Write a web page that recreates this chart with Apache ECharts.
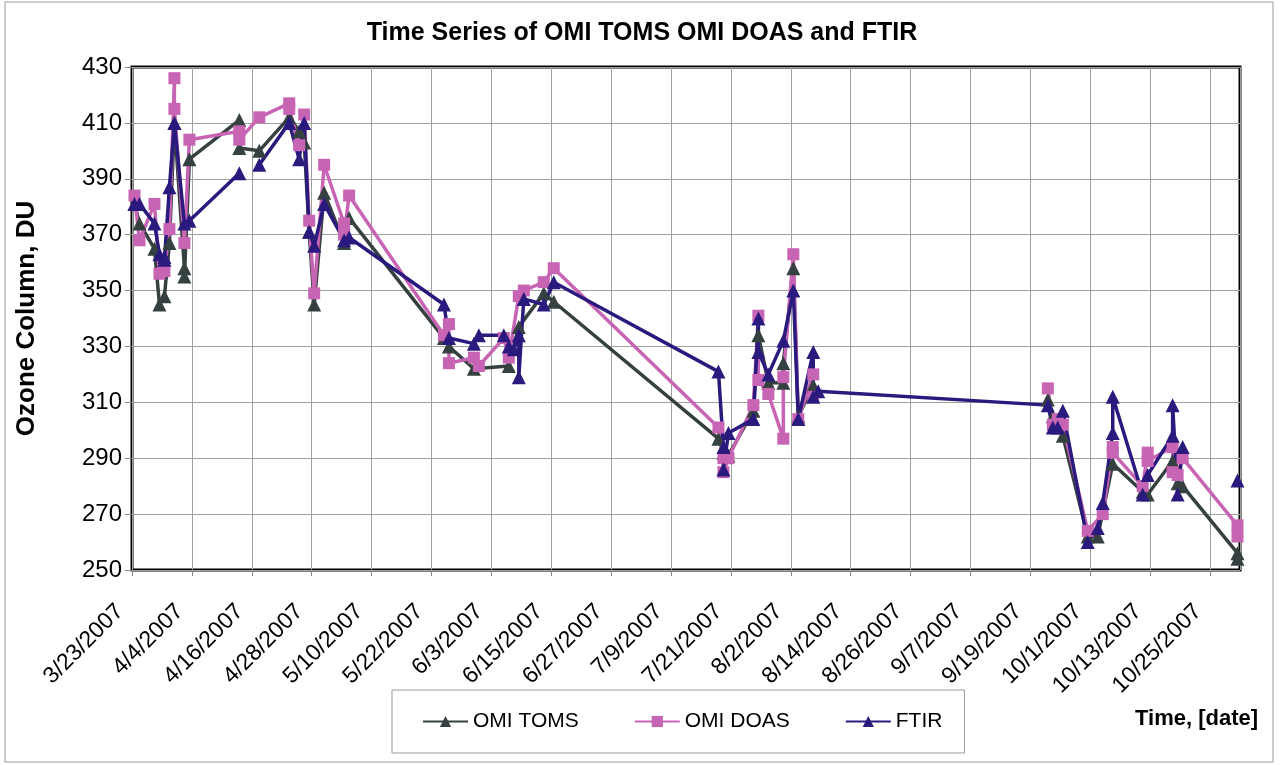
<!DOCTYPE html>
<html>
<head>
<meta charset="utf-8">
<title>Time Series of OMI TOMS OMI DOAS and FTIR</title>
<script src="https://cdn.jsdelivr.net/npm/echarts@6/dist/echarts.min.js"></script>
<style>
  html, body { margin: 0; padding: 0; background: #fff; }
  #chart { width: 1284px; height: 765px; }
</style>
</head>
<body>
<div id="chart"></div>
<script>
// dates are M/D in 2007, null = gap in the line
const tomsDates = ['3/23', '3/24', '3/27', '3/28', '3/29', '3/30', '3/31', '4/2', '4/2', '4/3',
  '4/13', '4/13', '4/17', '4/23', '4/25', '4/26', '4/27', '4/28', '4/30', '5/4', '5/5',
  '5/24', '5/25', '5/30', '6/6', '6/8', '6/13', '6/15',
  '7/18', '7/19', '7/20', '7/25', '7/26', '7/28', '7/31', '7/31', '8/2', '8/3', '8/6', '8/7',
  '9/22', '9/23', '9/25', '9/30', '10/2', '10/5', '10/11', '10/12', '10/17', '10/18', '10/19', '10/30', '10/30'];
const tomsValues = [381, 374, 365, 345, 348, 367, 410, 358, 355, 397,
  411, 401, 400, 412, 407, 403, 371, 345, 385, 367, 376,
  333, 330, 322, 323, 337, 349, 346,
  297, 292, 291, 307, 334, 317, 317, 324, 358, 305, 316, null,
  311, 305, 298, 262, 262, 288, 278, 277, 289, 281, 280, 256, 254];

const doasDates = ['3/23', '3/24', '3/27', '3/28', '3/29', '3/30', '3/31', '3/31', '4/2', '4/3',
  '4/13', '4/13', '4/17', '4/23', '4/23', '4/25', '4/26', '4/27', '4/28', '4/30', '5/4', '5/4', '5/5',
  '5/24', '5/25', '5/25', '5/30', '5/31', '6/5', '6/6', '6/8', '6/9', '6/13', '6/15',
  '7/18', '7/19', '7/19', '7/20', '7/25', '7/26', '7/26', '7/28', '7/31', '7/31', '8/2', '8/3', '8/6', '8/6', '8/7',
  '9/22', '9/23', '9/24', '9/25', '9/30', '10/3', '10/5', '10/5', '10/11', '10/12', '10/12',
  '10/17', '10/17', '10/18', '10/19', '10/30', '10/30'];
const doasValues = [384, 368, 381, 356, 357, 372, 426, 415, 367, 404,
  407, 404, 412, 417, 415, 402, 413, 375, 349, 395, 374, 370, 384,
  334, 338, 324, 326, 323, 333, 326, 348, 350, 353, 358,
  301, 290, 285, 290, 309, 341, 318, 313, 297, 319, 363, 304, 320, 312, null,
  315, 302, 304, 302, 264, 270, 294, 292, 280, 292, 289,
  294, 285, 284, 290, 266, 262];

const ftirDates = ['3/23', '3/24', '3/27', '3/28', '3/29', '3/29', '3/30', '3/31', '4/2', '4/3',
  '4/13', '4/15', '4/17', '4/23', '4/25', '4/26', '4/27', '4/28', '4/30', '5/4', '5/5',
  '5/24', '5/25', '5/30', '5/31', '6/5', '6/6', '6/7', '6/8', '6/8', '6/9', '6/13', '6/15',
  '7/18', '7/19', '7/19', '7/20', '7/25', '7/26', '7/26', '7/28', '7/31', '8/2', '8/3', '8/6', '8/6', '8/7',
  '9/22', '9/23', '9/24', '9/25', '9/30', '10/2', '10/3', '10/5', '10/5', '10/11', '10/12',
  '10/17', '10/17', '10/18', '10/19', '10/25', '10/30'];
const ftirValues = [381, 381, 374, 363, 362, 361, 387, 410, 374, 375,
  392, null, 395, 410, 397, 410, 371, 366, 381, 368, 369,
  345, 333, 331, 334, 334, 330, 329, 334, 319, 347, 345, 353,
  321, 294, 286, 299, 304, 340, 328, 320, 332, 350, 304, 328, 312, 314,
  309, 301, 301, 307, 260, 265, 274, 299, 312, 277, 284,
  298, 309, 277, 294, null, 282];

const seriesNames = ['OMI TOMS', 'OMI DOAS', 'FTIR'];

const DAY = 86400000;
const START = Date.UTC(2007, 2, 23);

// days since 3/23/2007, centred in the day slot like the excel date axis
function toDay(s) {
  const p = s.split('/');
  return (Date.UTC(2007, +p[0] - 1, +p[1]) - START) / DAY + 0.5;
}
function dayLabel(v) {
  const d = new Date(START + v * DAY);
  return (d.getUTCMonth() + 1) + '/' + d.getUTCDate() + '/' + d.getUTCFullYear();
}
function pairs(dates, values) {
  return dates.map((s, i) => [toDay(s), values[i] === null ? '-' : values[i]]);
}

const chart = echarts.init(document.getElementById('chart'));
const font = 'Liberation Sans, Arial, sans-serif';

chart.setOption({
  backgroundColor: '#fff',
  animation: false,
  title: {
    text: 'Time Series of OMI TOMS OMI DOAS and FTIR',
    left: 'center',
    top: 16,
    textStyle: { fontFamily: font, fontSize: 25, fontWeight: 'bold', color: '#000' }
  },
  grid: {
    left: 132, top: 67, right: 44, bottom: 195,
    show: true, borderColor: '#000', borderWidth: 3
  },
  legend: {
    left: 392, top: 690,
    padding: [21, 22, 21, 30],
    itemGap: 55,
    itemWidth: 45,
    itemHeight: 14,
    borderColor: '#999', borderWidth: 1,
    textStyle: { fontFamily: font, fontSize: 21, color: '#000' },
    data: seriesNames
  },
  xAxis: {
    type: 'value',
    min: 0, max: 222, interval: 12,
    axisLine: { show: false },
    axisTick: { show: true, length: 6, lineStyle: { color: '#888' } },
    axisLabel: {
      rotate: 45, margin: 26, padding: [0, 17, 0, 0], showMaxLabel: false,
      fontFamily: font, fontSize: 23, color: '#000',
      formatter: dayLabel
    },
    splitLine: { show: true, lineStyle: { color: '#a0a0a0', width: 1 } }
  },
  yAxis: {
    type: 'value',
    min: 250, max: 430, interval: 20,
    name: 'Ozone Column, DU',
    nameLocation: 'middle',
    nameRotate: 90,
    nameGap: 92,
    nameTextStyle: { fontFamily: font, fontSize: 26, fontWeight: 'bold', color: '#000' },
    axisLine: { show: false },
    axisTick: { show: true, length: 7, lineStyle: { color: '#888' } },
    axisLabel: { margin: 10, fontFamily: font, fontSize: 24, color: '#000' },
    splitLine: { show: true, lineStyle: { color: '#a0a0a0', width: 1 } }
  },
  graphic: [
    {
      type: 'rect', z: -10, silent: true,
      shape: { x: 5, y: 2, width: 1268, height: 760 },
      style: { fill: 'none', stroke: '#999', lineWidth: 1 }
    },
    {
      type: 'text', left: 1135, top: 708,
      style: { text: 'Time, [date]', font: 'bold 22px ' + font, fill: '#000' }
    }
  ],
  series: [
    {
      name: seriesNames[0], type: 'line',
      data: pairs(tomsDates, tomsValues),
      symbol: 'triangle', symbolSize: 14,
      lineStyle: { color: '#354040', width: 3.5 },
      itemStyle: { color: '#354040' }
    },
    {
      name: seriesNames[1], type: 'line',
      data: pairs(doasDates, doasValues),
      symbol: 'rect', symbolSize: 12,
      lineStyle: { color: '#c864b4', width: 3.5 },
      itemStyle: { color: '#c864b4' }
    },
    {
      name: seriesNames[2], type: 'line',
      data: pairs(ftirDates, ftirValues),
      symbol: 'triangle', symbolSize: 14,
      lineStyle: { color: '#2a1a7e', width: 3.5 },
      itemStyle: { color: '#2a1a7e' }
    }
  ]
});
</script>
</body>
</html>
